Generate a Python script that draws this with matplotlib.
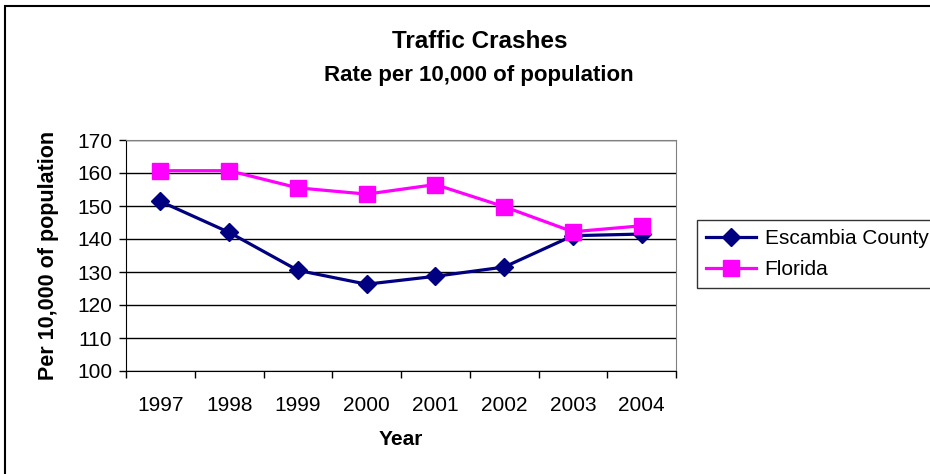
import matplotlib.pyplot as plt
from matplotlib.patches import Rectangle

# ---- data
years = ['1997', '1998', '1999', '2000', '2001', '2002', '2003', '2004']
escambia = [151.4, 142.0, 130.5, 126.3, 128.7, 131.5, 141.0, 141.5]
florida = [160.7, 160.7, 155.5, 153.6, 156.5, 149.8, 142.2, 144.0]

plt.rcParams['font.family'] = ['Liberation Sans', 'DejaVu Sans']

fig = plt.figure(figsize=(9.3, 4.74), dpi=100)
ax = fig.add_axes([126 / 930, 1 - 371 / 474, 550 / 930, 231 / 474])

x = list(range(len(years)))
ax.plot(x, escambia, color='#000080', lw=2.3, marker='D', ms=9.5,
        label='Escambia County', zorder=3)
ax.plot(x, florida, color='#FF00FF', lw=2.3, marker='s', ms=12,
        label='Florida', zorder=3)

ax.set_xlim(-0.5, len(years) - 0.5)
ax.set_ylim(100, 170)
ax.set_yticks(range(100, 171, 10))
ax.set_xticks(x)
ax.set_xticklabels(years)
ax.set_xticks([i - 0.5 for i in range(len(years) + 1)], minor=True)
ax.tick_params(axis='x', which='major', length=0, pad=18, labelsize=15)
ax.tick_params(axis='x', which='minor', length=5, direction='out', width=1)
ax.tick_params(axis='y', length=5, direction='out', width=1, pad=5, labelsize=15)

ax.grid(axis='y', color='black', lw=1)
ax.set_axisbelow(True)
for side in ['top', 'right']:
    ax.spines[side].set_color('#808080')
for side in ['left', 'bottom']:
    ax.spines[side].set_color('black')

ax.set_xlabel('Year', fontsize=15, fontweight='bold', labelpad=11)
ax.set_ylabel('Per 10,000 of population', fontsize=15.5, fontweight='bold', labelpad=13)

fig.text(480 / 930, 1 - 42 / 474, 'Traffic Crashes', ha='center', va='center',
         fontsize=17.5, fontweight='bold')
fig.text(479 / 930, 1 - 75 / 474, 'Rate per 10,000 of population', ha='center',
         va='center', fontsize=16, fontweight='bold')

leg = fig.legend(loc='upper left', bbox_to_anchor=(697 / 930, 1 - 220 / 474),
                 frameon=True, fancybox=False, fontsize=15, handlelength=2.4,
                 borderaxespad=0, borderpad=0.45, labelspacing=0.55, handletextpad=0.4)
leg.get_frame().set_edgecolor('black')
leg.get_frame().set_linewidth(1)

# outer chart border (cut off at right and bottom like the reference)
fig.patches.append(Rectangle((5 / 930, -0.1), 1.0, 1 - 6 / 474 + 0.1,
                             transform=fig.transFigure, fill=False,
                             edgecolor='black', lw=1.5))

plt.savefig('out.png', dpi=100)
plt.close()
